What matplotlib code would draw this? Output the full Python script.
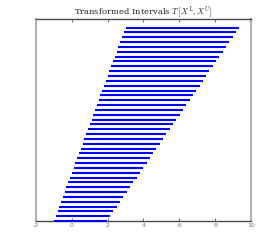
import matplotlib
matplotlib.use("Agg")
import matplotlib.pyplot as plt

plt.rcParams['mathtext.fontset'] = 'cm'

# interval index (y positions)
idx = list(range(41))
# lower endpoints
lower = [-1.0, -0.9, -0.8, -0.7, -0.6, -0.5, -0.4, -0.3, -0.2, -0.1,
         0.0, 0.1, 0.2, 0.3, 0.4, 0.5, 0.6, 0.7, 0.8, 0.9,
         1.0, 1.1, 1.2, 1.3, 1.4, 1.5, 1.6, 1.7, 1.8, 1.9,
         2.0, 2.1, 2.2, 2.3, 2.4, 2.5, 2.6, 2.7, 2.8, 2.9, 3.0]
# upper endpoints
upper = [1.95, 2.13, 2.32, 2.50, 2.69, 2.87, 3.06, 3.24, 3.43, 3.61,
         3.80, 3.98, 4.17, 4.35, 4.54, 4.72, 4.91, 5.09, 5.28, 5.46,
         5.65, 5.83, 6.02, 6.20, 6.39, 6.57, 6.76, 6.94, 7.13, 7.31,
         7.50, 7.68, 7.87, 8.05, 8.24, 8.42, 8.61, 8.79, 8.98, 9.16, 9.35]
xticks = [-2, 0, 2, 4, 6, 8, 10]

fig = plt.figure(figsize=(2.77, 2.49), dpi=100)
ax = fig.add_axes([0.130, 0.112, 0.776, 0.812])
ax.hlines(idx, lower, upper, colors='#0000ff', linewidth=1.5, clip_on=False, zorder=3)
ax.set_xlim(-2, 10)
ax.set_ylim(0, 41.8)
ax.set_xticks(xticks)
ax.set_xticklabels([str(t) for t in xticks], fontsize=4.5, color='#777777')
ax.set_yticks([])
ax.tick_params(axis='x', direction='in', length=2.5, width=0.6, top=True, pad=1.5, colors='#555555', labelcolor='#777777')
for s in ['top', 'bottom']:
    ax.spines[s].set_color('#4a4a4a')
    ax.spines[s].set_linewidth(1.0)
for s in ['left', 'right']:
    ax.spines[s].set_color('#b0b0b0')
    ax.spines[s].set_linewidth(1.5)
ax.set_title(r'Transformed Intervals $T\,[X^L, X^U]$', fontsize=6, family='serif', pad=3, color='#222222')
fig.savefig('out.png', dpi=100)
